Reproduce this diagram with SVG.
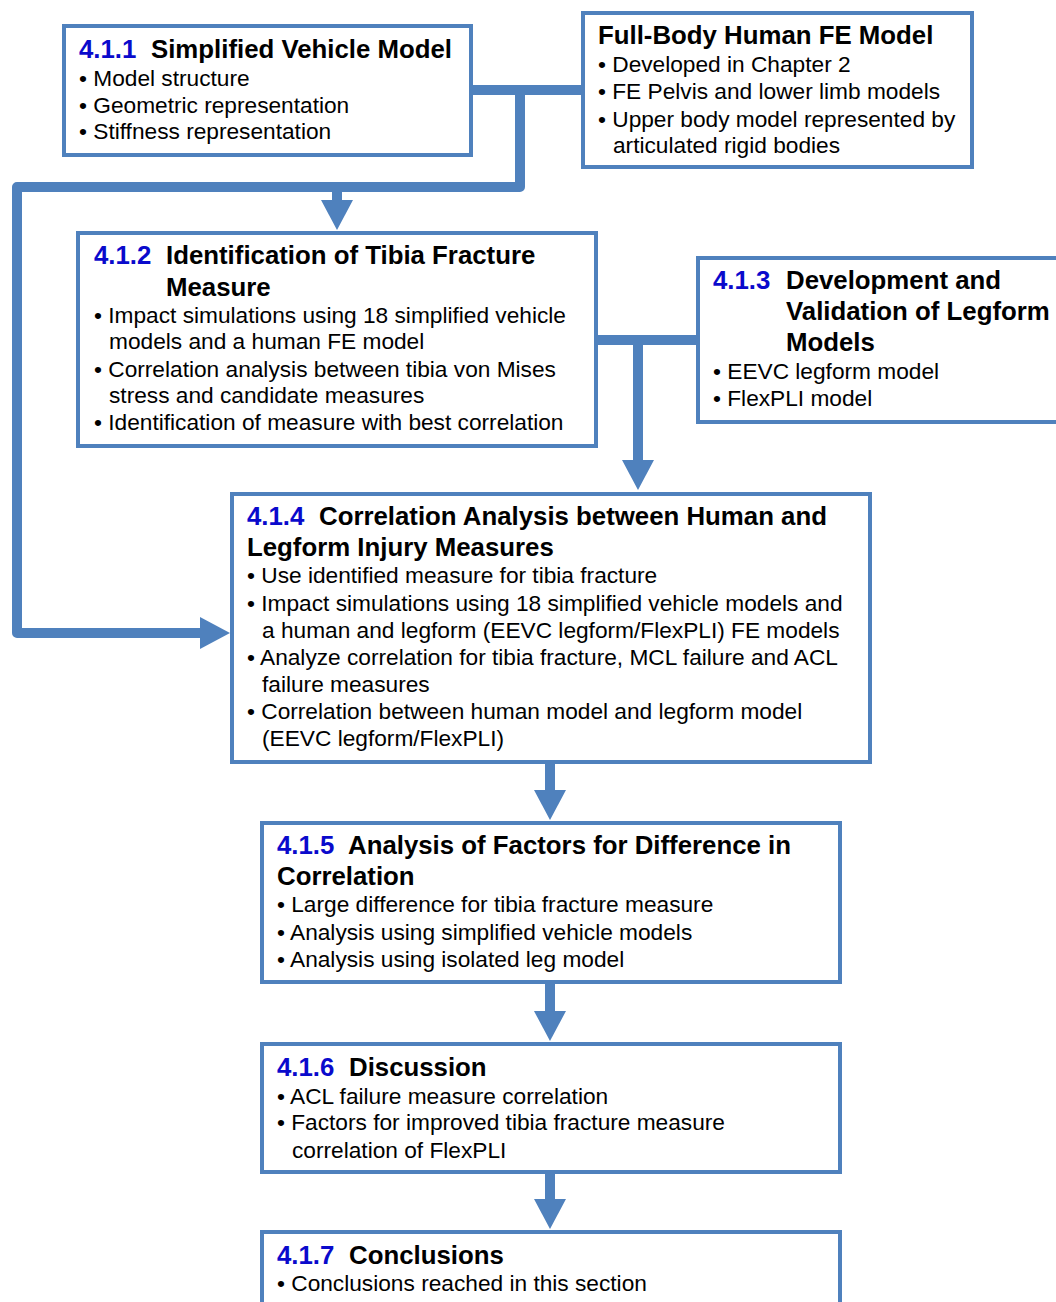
<svg xmlns="http://www.w3.org/2000/svg" width="1056" height="1302" viewBox="0 0 1056 1302">
  <style>
    .box { fill: #ffffff; stroke: #4F81BD; stroke-width: 4; }
    .wire { fill: none; stroke: #4F81BD; stroke-width: 10; stroke-linejoin: round; }
    .head { fill: #4F81BD; }
    text { font-family: "Liberation Sans", Arial, sans-serif; fill: #000000; }
    .ttl { font-size: 25.8px; font-weight: bold; }
    .num { fill: #0A0ACC; }
    .body { font-size: 22.7px; }
  </style>

  <rect width="1056" height="1302" fill="#ffffff"/>

  <!-- connectors -->
  <g id="connectors">
    <!-- 4.1.1 to full-body model link, feeding 4.1.2 and 4.1.4 -->
    <path class="wire" d="M472,90 H582"/>
    <path class="wire" d="M520,90 V187 H17 V633 H201"/>
    <polygon class="head" points="200,617 230,633 200,649"/>
    <path class="wire" d="M337,187 V201"/>
    <polygon class="head" points="321,200 353,200 337,230"/>
    <!-- 4.1.2 / 4.1.3 merge into 4.1.4 -->
    <path class="wire" d="M597,340 H697"/>
    <path class="wire" d="M638,340 V461"/>
    <polygon class="head" points="622,460 654,460 638,490"/>
    <!-- main chain -->
    <path class="wire" d="M550,763 V791"/>
    <polygon class="head" points="534,790 566,790 550,820"/>
    <path class="wire" d="M550,983 V1012"/>
    <polygon class="head" points="534,1011 566,1011 550,1041"/>
    <path class="wire" d="M550,1173 V1200"/>
    <polygon class="head" points="534,1199 566,1199 550,1229"/>
  </g>

  <g id="n411">
    <rect class="box" x="64" y="26" width="407" height="129"/>
    <text class="ttl" y="58"><tspan class="num" x="79">4.1.1</tspan><tspan x="151">Simplified Vehicle Model</tspan></text>
    <text class="body" x="79" y="86">• Model structure</text>
    <text class="body" x="79" y="113">• Geometric representation</text>
    <text class="body" x="79" y="139">• Stiffness representation</text>
  </g>

  <g id="fullbody">
    <rect class="box" x="583" y="13" width="389" height="154"/>
    <text class="ttl" x="598" y="44">Full-Body Human FE Model</text>
    <text class="body" x="598" y="72">• Developed in Chapter 2</text>
    <text class="body" x="598" y="99">• FE Pelvis and lower limb models</text>
    <text class="body" x="598" y="127">• Upper body model represented by</text>
    <text class="body" x="613" y="153">articulated rigid bodies</text>
  </g>

  <g id="n412">
    <rect class="box" x="78" y="233" width="518" height="213"/>
    <text class="ttl" y="264"><tspan class="num" x="94">4.1.2</tspan><tspan x="166">Identification of Tibia Fracture</tspan></text>
    <text class="ttl" x="166" y="296">Measure</text>
    <text class="body" x="94" y="323">• Impact simulations using 18 simplified vehicle</text>
    <text class="body" x="109" y="349">models and a human FE model</text>
    <text class="body" x="94" y="377">• Correlation analysis between tibia von Mises</text>
    <text class="body" x="109" y="403">stress and candidate measures</text>
    <text class="body" x="94" y="430">• Identification of measure with best correlation</text>
  </g>

  <g id="n413">
    <rect class="box" x="698" y="258" width="366" height="164"/>
    <text class="ttl" y="289"><tspan class="num" x="713">4.1.3</tspan><tspan x="786">Development and</tspan></text>
    <text class="ttl" x="786" y="320">Validation of Legform</text>
    <text class="ttl" x="786" y="351">Models</text>
    <text class="body" x="713" y="379">• EEVC legform model</text>
    <text class="body" x="713" y="406">• FlexPLI model</text>
  </g>

  <g id="n414">
    <rect class="box" x="232" y="494" width="638" height="268"/>
    <text class="ttl" y="525"><tspan class="num" x="247">4.1.4</tspan><tspan x="319">Correlation Analysis between Human and</tspan></text>
    <text class="ttl" x="247" y="556">Legform Injury Measures</text>
    <text class="body" x="247" y="583">• Use identified measure for tibia fracture</text>
    <text class="body" x="247" y="611">• Impact simulations using 18 simplified vehicle models and</text>
    <text class="body" x="262" y="638">a human and legform (EEVC legform/FlexPLI) FE models</text>
    <text class="body" x="247" y="665">• Analyze correlation for tibia fracture, MCL failure and ACL</text>
    <text class="body" x="262" y="692">failure measures</text>
    <text class="body" x="247" y="719">• Correlation between human model and legform model</text>
    <text class="body" x="262" y="746">(EEVC legform/FlexPLI)</text>
  </g>

  <g id="n415">
    <rect class="box" x="262" y="823" width="578" height="159"/>
    <text class="ttl" y="854"><tspan class="num" x="277">4.1.5</tspan><tspan x="348">Analysis of Factors for Difference in</tspan></text>
    <text class="ttl" x="277" y="885">Correlation</text>
    <text class="body" x="277" y="912">• Large difference for tibia fracture measure</text>
    <text class="body" x="277" y="940">• Analysis using simplified vehicle models</text>
    <text class="body" x="277" y="967">• Analysis using isolated leg model</text>
  </g>

  <g id="n416">
    <rect class="box" x="262" y="1044" width="578" height="128"/>
    <text class="ttl" y="1076"><tspan class="num" x="277">4.1.6</tspan><tspan x="349">Discussion</tspan></text>
    <text class="body" x="277" y="1104">• ACL failure measure correlation</text>
    <text class="body" x="277" y="1130">• Factors for improved tibia fracture measure</text>
    <text class="body" x="292" y="1158">correlation of FlexPLI</text>
  </g>

  <g id="n417">
    <rect class="box" x="262" y="1232" width="578" height="90"/>
    <text class="ttl" y="1264"><tspan class="num" x="277">4.1.7</tspan><tspan x="349">Conclusions</tspan></text>
    <text class="body" x="277" y="1291">• Conclusions reached in this section</text>
  </g>
</svg>
